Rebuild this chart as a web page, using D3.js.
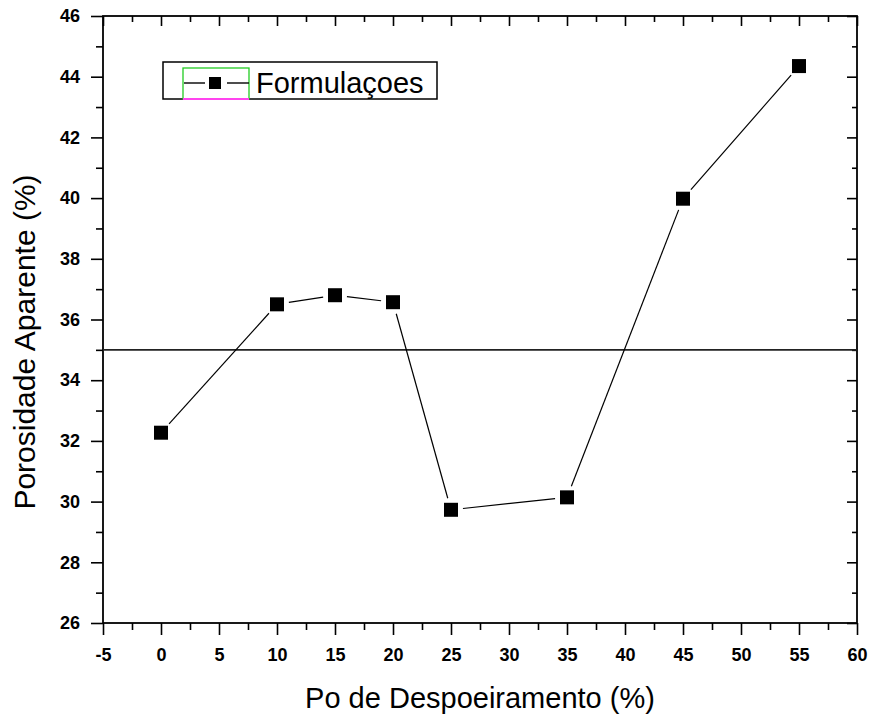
<!DOCTYPE html>
<html>
<head>
<meta charset="utf-8">
<script src="https://cdn.jsdelivr.net/npm/d3@7"></script>
<style>
  body { margin: 0; background: #fff; }
  text { font-family: "Liberation Sans", Arial, sans-serif; fill: #000; }
</style>
</head>
<body>
<div id="main"></div>
<script>
// dados
var poDesp = [0, 10, 15, 20, 25, 35, 45, 55];
var porosidade = [32.27, 36.5, 36.8, 36.57, 29.73, 30.14, 39.98, 44.35];
var linhaRef = 35;
var xTicks = [-5, 0, 5, 10, 15, 20, 25, 30, 35, 40, 45, 50, 55, 60];
var yTicks = [26, 28, 30, 32, 34, 36, 38, 40, 42, 44, 46];
var serieNome = "Formulaçoes";

var width = 871, height = 715;
var pLeft = 103, pRight = 857, pTop = 16, pBottom = 623;

var svg = d3.select("#main").append("svg")
    .attr("width", width).attr("height", height);

var x = d3.scaleLinear().domain([-5, 60]).range([pLeft, pRight]);
var y = d3.scaleLinear().domain([26, 46]).range([pBottom, pTop]);

var xMinor = xTicks.slice(0, -1).map(function(d) { return d + 2.5; });
var yMinor = yTicks.slice(0, -1).map(function(d) { return d + 1; });

function estilo(g) {
  g.select(".domain").remove();
  g.selectAll("line").attr("stroke", "#000").attr("stroke-width", 1.6);
  g.selectAll("text").style("font-size", "18px").style("font-weight", "bold").attr("fill", "#000");
}

// eixo inferior
svg.append("g").attr("transform", "translate(0," + pBottom + ")")
  .call(d3.axisBottom(x).tickValues(xTicks).tickSize(12).tickPadding(13)
    .tickFormat(function(d) { return String(d); }))
  .call(estilo);
svg.append("g").attr("transform", "translate(0," + pBottom + ")")
  .call(d3.axisBottom(x).tickValues(xMinor).tickSize(7).tickFormat(""))
  .call(estilo);
// eixo superior (ticks para dentro)
svg.append("g").attr("transform", "translate(0," + pTop + ")")
  .call(d3.axisBottom(x).tickValues(xTicks).tickSize(10).tickFormat(""))
  .call(estilo);
svg.append("g").attr("transform", "translate(0," + pTop + ")")
  .call(d3.axisBottom(x).tickValues(xMinor).tickSize(6).tickFormat(""))
  .call(estilo);
// eixo esquerdo
svg.append("g").attr("transform", "translate(" + pLeft + ",0)")
  .call(d3.axisLeft(y).tickValues(yTicks).tickSize(12).tickPadding(11)
    .tickFormat(function(d) { return String(d); }))
  .call(estilo);
svg.append("g").attr("transform", "translate(" + pLeft + ",0)")
  .call(d3.axisLeft(y).tickValues(yMinor).tickSize(7).tickFormat(""))
  .call(estilo);
// eixo direito (ticks para dentro)
svg.append("g").attr("transform", "translate(" + pRight + ",0)")
  .call(d3.axisLeft(y).tickValues(yTicks).tickSize(10).tickFormat(""))
  .call(estilo);
svg.append("g").attr("transform", "translate(" + pRight + ",0)")
  .call(d3.axisLeft(y).tickValues(yMinor).tickSize(5).tickFormat(""))
  .call(estilo);

// moldura
svg.append("rect")
  .attr("x", pLeft).attr("y", pTop)
  .attr("width", pRight - pLeft).attr("height", pBottom - pTop)
  .attr("fill", "none").attr("stroke", "#000").attr("stroke-width", 1.8);

// linha de referencia
svg.append("line")
  .attr("x1", pLeft).attr("x2", pRight)
  .attr("y1", y(linhaRef)).attr("y2", y(linhaRef))
  .attr("stroke", "#222").attr("stroke-width", 1.6);

// segmentos com folga perto dos marcadores
var gap = 12;
var pts = poDesp.map(function(d, i) { return [x(d), y(porosidade[i])]; });
for (var i = 1; i < pts.length; i++) {
  var p0 = pts[i - 1], p1 = pts[i];
  var dx = p1[0] - p0[0], dy = p1[1] - p0[1];
  var len = Math.sqrt(dx * dx + dy * dy);
  var ux = dx / len, uy = dy / len;
  svg.append("line")
    .attr("x1", p0[0] + ux * gap).attr("y1", p0[1] + uy * gap)
    .attr("x2", p1[0] - ux * gap).attr("y2", p1[1] - uy * gap)
    .attr("stroke", "#000").attr("stroke-width", 1.2);
}

var ms = 14;
svg.selectAll(".ponto")
  .data(poDesp)
  .enter().append("rect")
  .attr("class", "ponto")
  .attr("x", function(d) { return x(d) - ms / 2; })
  .attr("y", function(d, i) { return y(porosidade[i]) - ms / 2; })
  .attr("width", ms).attr("height", ms)
  .attr("fill", "#000");

// legenda
var leg = svg.append("g");
leg.append("rect").attr("x", 163).attr("y", 62).attr("width", 274).attr("height", 37)
  .attr("fill", "#fff").attr("stroke", "#000").attr("stroke-width", 1.5);
leg.append("rect").attr("x", 183).attr("y", 68).attr("width", 66).attr("height", 31)
  .attr("fill", "none").attr("stroke", "#22cc22").attr("stroke-width", 1.3);
leg.append("line").attr("x1", 183).attr("x2", 249).attr("y1", 99).attr("y2", 99)
  .attr("stroke", "#ff44ee").attr("stroke-width", 2);
leg.append("line").attr("x1", 184).attr("x2", 205).attr("y1", 83).attr("y2", 83)
  .attr("stroke", "#000").attr("stroke-width", 1.4);
leg.append("line").attr("x1", 227).attr("x2", 249).attr("y1", 83).attr("y2", 83)
  .attr("stroke", "#000").attr("stroke-width", 1.4);
leg.append("rect").attr("x", 209).attr("y", 77).attr("width", 12).attr("height", 12)
  .attr("fill", "#000");
leg.append("text").attr("x", 256).attr("y", 93)
  .style("font-size", "29px").text(serieNome);

// titulos
svg.append("text")
  .attr("x", (pLeft + pRight) / 2).attr("y", 708)
  .attr("text-anchor", "middle")
  .style("font-size", "29px")
  .text("Po de Despoeiramento (%)");
svg.append("text")
  .attr("transform", "translate(35,342) rotate(-90)")
  .attr("text-anchor", "middle")
  .style("font-size", "30px")
  .text("Porosidade Aparente (%)");
</script>
</body>
</html>
